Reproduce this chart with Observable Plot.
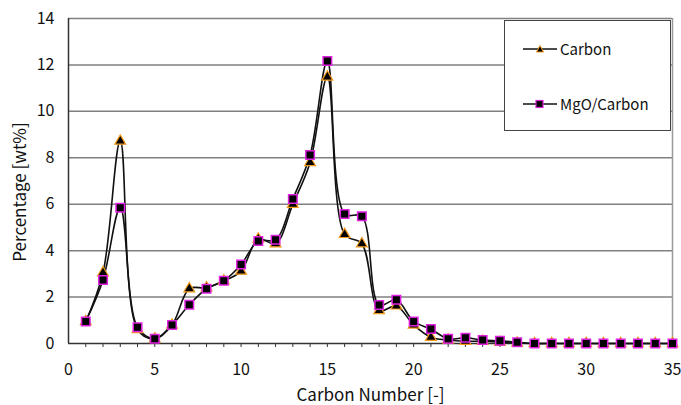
<!DOCTYPE html>
<html>
<head>
<meta charset="utf-8">
<script src="https://cdn.jsdelivr.net/npm/d3@7"></script>
<script src="https://cdn.jsdelivr.net/npm/@observablehq/plot@0.6"></script>
<style>
  html, body { margin: 0; padding: 0; background: #fff; }
  #wrap { position: relative; width: 681px; height: 405px; font-family: "Noto Sans CJK JP", "Liberation Sans", Arial, sans-serif; }
  #legend { position: absolute; left: 504px; top: 20px; width: 167px; height: 111px; border: 1.5px solid #444; background: #fff; box-sizing: border-box; }
  .item { position: absolute; left: 18px; height: 20px; display: flex; align-items: center; font-size: 15px; color: #111; line-height: 20px; }
  .item svg { margin-right: 3px; }
</style>
</head>
<body>
<div id="wrap"></div>
<script>
const carbonNumber = d3.range(1, 36);
const carbon = [0.95, 3.05, 8.72, 0.6, 0.2, 0.8, 2.36, 2.4, 2.7, 3.12, 4.5, 4.3, 6.0, 7.8, 11.48, 4.7, 4.3, 1.42, 1.62, 0.8, 0.27, 0.15, 0.1, 0.1, 0.05, 0.02, 0, 0, 0, 0, 0, 0, 0, 0, 0];
const mgoCarbon = [0.95, 2.74, 5.85, 0.7, 0.2, 0.8, 1.67, 2.36, 2.7, 3.4, 4.42, 4.47, 6.22, 8.12, 12.17, 5.58, 5.48, 1.66, 1.88, 0.95, 0.62, 0.2, 0.25, 0.15, 0.12, 0.05, 0, 0, 0, 0, 0, 0, 0, 0, 0];
const seriesNames = ["Carbon", "MgO/Carbon"];
const xTicks = [0, 5, 10, 15, 20, 25, 30, 35];
const yTicks = [0, 2, 4, 6, 8, 10, 12, 14];

const dCarbon = carbonNumber.map((c, i) => ({c, v: carbon[i]}));
const dMgo = carbonNumber.map((c, i) => ({c, v: mgoCarbon[i]}));

const font = "'Noto Sans CJK JP', 'Liberation Sans', Arial, sans-serif";

const chart = Plot.plot({
  width: 681,
  height: 405,
  marginLeft: 68,
  marginRight: 9,
  marginTop: 18,
  marginBottom: 62,
  style: {fontFamily: font, fontSize: "16px", color: "#111", background: "#fff"},
  x: {domain: [0, 35]},
  y: {domain: [0, 14]},
  marks: [
    Plot.ruleY(yTicks.filter(d => d > 0), {stroke: "#808080", strokeWidth: 1.5}),
    Plot.ruleX([35], {stroke: "#999", strokeWidth: 1.5}),
    Plot.axisX(carbonNumber, {tickSize: 4, stroke: "#333", text: null, label: null}),
    Plot.axisX(xTicks, {tickSize: 0, tickPadding: 20, fontSize: 16, label: null}),
    Plot.axisY(yTicks, {tickSize: 0, tickPadding: 14, fontSize: 16, label: null}),
    Plot.ruleY([0], {stroke: "#333", strokeWidth: 1.5}),
    Plot.ruleX([0], {stroke: "#333", strokeWidth: 1.5}),
    Plot.line(dCarbon, {x: "c", y: "v", curve: "catmull-rom", stroke: "#111", strokeWidth: 1.6}),
    Plot.line(dMgo, {x: "c", y: "v", curve: "catmull-rom", stroke: "#111", strokeWidth: 1.6}),
    Plot.dot(dCarbon, {x: "c", y: "v", symbol: "triangle", r: 4, fill: "#000", stroke: "#f39a1c", strokeWidth: 1.2}),
    Plot.dot(dMgo, {x: "c", y: "v", symbol: "square", r: 4.8, fill: "#000", stroke: "#e020e0", strokeWidth: 1.5}),
    Plot.text(["Carbon Number [-]"], {frameAnchor: "bottom", dy: 57, fontSize: 17, fill: "#111"}),
    Plot.text(["Percentage [wt%]"], {frameAnchor: "left", textAnchor: "middle", dx: -48, dy: 11, rotate: -90, fontSize: 17, fill: "#111"})
  ]
});

const wrap = document.getElementById("wrap");
wrap.appendChild(chart);

const legend = document.createElement("div");
legend.id = "legend";
const sym = [
  `<svg width="34" height="12"><line x1="0" y1="6" x2="34" y2="6" stroke="#111" stroke-width="1.5"/><path d="M17,2.5 L20.5,9 L13.5,9 Z" fill="#000" stroke="#f39a1c" stroke-width="1"/></svg>`,
  `<svg width="34" height="12"><line x1="0" y1="6" x2="34" y2="6" stroke="#111" stroke-width="1.5"/><rect x="13" y="2.5" width="7" height="7" fill="#000" stroke="#e020e0" stroke-width="1.2"/></svg>`
];
const tops = [18, 73];
seriesNames.forEach((name, i) => {
  const it = document.createElement("div");
  it.className = "item";
  it.style.top = tops[i] + "px";
  it.innerHTML = sym[i] + `<span>${name}</span>`;
  legend.appendChild(it);
});
wrap.appendChild(legend);
</script>
</body>
</html>
